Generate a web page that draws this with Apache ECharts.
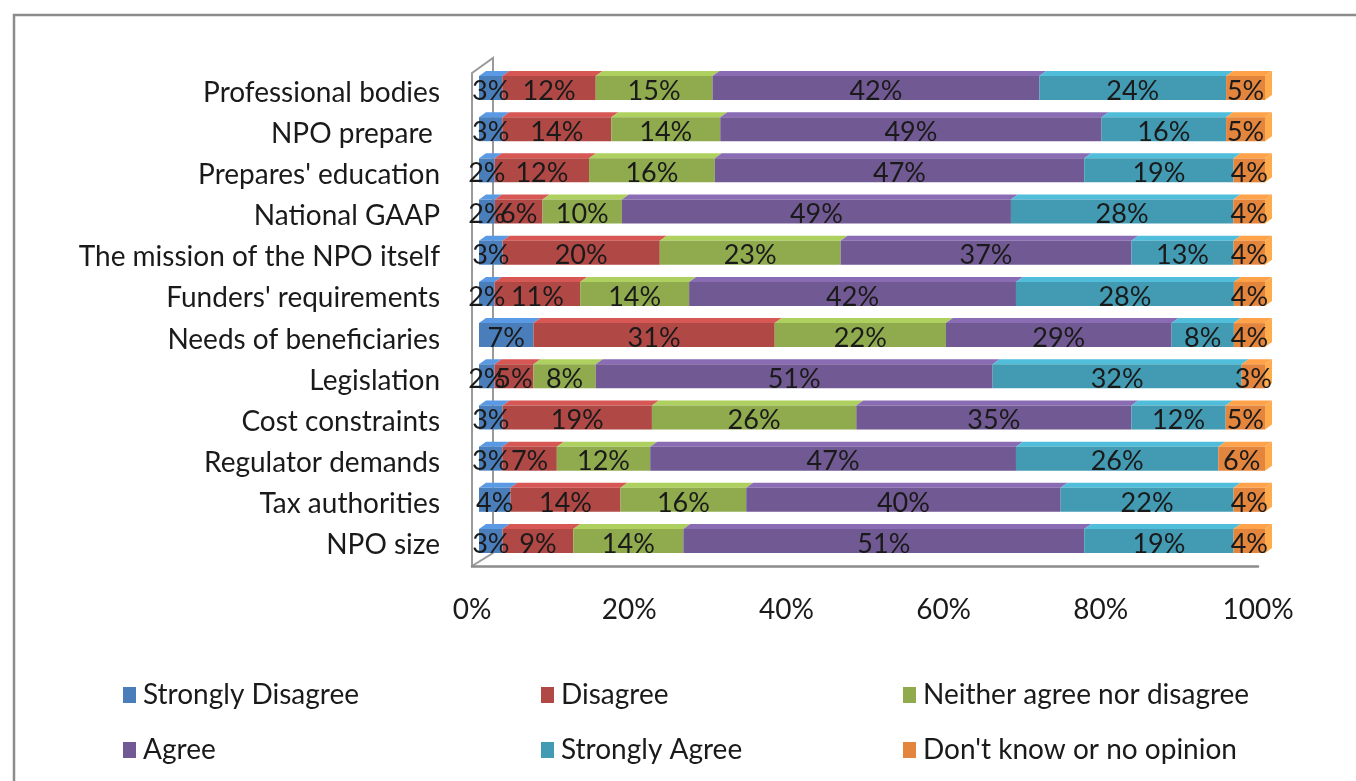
<!DOCTYPE html>
<html>
<head>
<meta charset="utf-8">
<script src="https://cdn.jsdelivr.net/npm/echarts@6/dist/echarts.min.js"></script>
<style>
html,body{margin:0;padding:0;background:#fff;}
#chart{width:1356px;height:781px;}
</style>
</head>
<body>
<div id="chart"></div>
<script>
// ---- data (top to bottom, as in the reference) ----
const categories = ['Professional bodies', 'NPO prepare ', "Prepares' education", 'National GAAP',
  'The mission of the NPO itself', "Funders' requirements", 'Needs of beneficiaries', 'Legislation',
  'Cost constraints', 'Regulator demands', 'Tax authorities', 'NPO size'];
const seriesNames = ['Strongly Disagree', 'Disagree', 'Neither agree nor disagree', 'Agree', 'Strongly Agree', "Don't know or no opinion"];
const stronglyDisagree = [3, 3, 2, 2, 3, 2, 7, 2, 3, 3, 4, 3];
const disagree         = [12, 14, 12, 6, 20, 11, 31, 5, 19, 7, 14, 9];
const neither          = [15, 14, 16, 10, 23, 14, 22, 8, 26, 12, 16, 14];
const agree            = [42, 49, 47, 49, 37, 42, 29, 51, 35, 47, 40, 51];
const stronglyAgree    = [24, 16, 19, 28, 13, 28, 8, 32, 12, 26, 22, 19];
const dontKnow         = [5, 5, 4, 4, 4, 4, 4, 3, 5, 6, 4, 4];
const xTicks = [0, 20, 40, 60, 80, 100];

// ---- styles ----
const colors = ['#4a7ebb', '#b04845', '#8fab4e', '#715993', '#429bb3', '#e3853d'];
const FONT = 'Lato';
const allSeries = [stronglyDisagree, disagree, neither, agree, stronglyAgree, dontKnow];

// 100% stacking: each row normalised to its own total
const rowTotals = categories.map((_, i) => allSeries.reduce((s, arr) => s + arr[i], 0));
const starts = categories.map(() => 0);

const DX = 7, DY = 5, FRONT_H = 24;

function makeRender(isLast) {
  return function (params, api) {
    const s = api.value(0), e = api.value(1), c = api.value(2), v = api.value(3);
    const p0 = api.coord([s, c]);
    const p1 = api.coord([e, c]);
    const x0 = p0[0], x1 = p1[0], yc = p0[1];
    const yt = yc - FRONT_H / 2, yb = yc + FRONT_H / 2;
    const col = api.visual('color');
    const topCol = echarts.color.lift(col, -0.22);
    const sideCol = echarts.color.lift(col, -0.3);
    const children = [
      {type: 'polygon', shape: {points: [[x0, yt], [x0 + DX, yt - DY], [x1 + DX, yt - DY], [x1, yt]]},
        style: {fill: topCol}, z2: 1},
      {type: 'rect', shape: {x: x0, y: yt, width: x1 - x0, height: FRONT_H},
        style: {fill: col}, z2: 2}
    ];
    if (isLast) {
      children.push({type: 'polygon', shape: {points: [[x1, yt], [x1 + DX, yt - DY], [x1 + DX, yb - DY], [x1, yb]]},
        style: {fill: sideCol}, z2: 2});
    }
    children.push({type: 'text', x: (x0 + x1) / 2, y: yc + 3, z2: 100,
      style: {text: v + '%', fill: '#1a1a1a', font: '27px ' + FONT, align: 'center', verticalAlign: 'middle'}});
    return {type: 'group', children: children};
  };
}

const series = allSeries.map((arr, k) => {
  const data = arr.map((v, i) => {
    const s = starts[i];
    const e = s + v / rowTotals[i] * 100;
    starts[i] = e;
    return [s, e, i, v];
  });
  return {
    type: 'custom', name: seriesNames[k], xAxisIndex: 0, yAxisIndex: 0,
    itemStyle: {color: colors[k]},
    encode: {x: [0, 1], y: 2},
    renderItem: makeRender(k === allSeries.length - 1),
    data: data
  };
});

const legendCommon = {
  orient: 'vertical', itemWidth: 13, itemHeight: 16, icon: 'rect', itemGap: 25,
  textStyle: {fontFamily: FONT, fontSize: 28, color: '#1a1a1a', lineHeight: 30, padding: [0, 0, 0, 2]},
  selectedMode: false, top: 675
};

const chart = echarts.init(document.getElementById('chart'), null, {renderer: 'canvas'});
chart.setOption({
  backgroundColor: '#fff',
  animation: false,
  textStyle: {fontFamily: FONT},
  grid: [
    {left: 479, right: 91, top: 67.4, bottom: 219.4},
    {left: 472, right: 98, top: 72, bottom: 215}
  ],
  xAxis: [
    {gridIndex: 0, type: 'value', min: 0, max: 100, show: false},
    {gridIndex: 1, type: 'value', min: 0, max: 100, interval: 20,
      axisLine: {show: true, lineStyle: {color: '#8c8c8c', width: 2.5}},
      axisTick: {show: false}, splitLine: {show: false},
      axisLabel: {margin: 30, fontSize: 28, color: '#1a1a1a', fontFamily: FONT,
        customValues: xTicks, formatter: '{value}%'}}
  ],
  yAxis: [
    {gridIndex: 0, type: 'category', data: categories, inverse: true, show: false},
    {gridIndex: 1, type: 'category', data: categories, inverse: true,
      axisLine: {show: false}, axisTick: {show: false},
      axisLabel: {margin: 32, fontSize: 28, color: '#1a1a1a', fontFamily: FONT}}
  ],
  legend: [
    Object.assign({}, legendCommon, {left: 118, data: [seriesNames[0], seriesNames[3]]}),
    Object.assign({}, legendCommon, {left: 536, data: [seriesNames[1], seriesNames[4]]}),
    Object.assign({}, legendCommon, {left: 898, data: [seriesNames[2], seriesNames[5]]})
  ],
  graphic: [
    {type: 'rect', shape: {x: 14, y: 15, width: 1400, height: 800}, silent: true, z: -10,
      style: {fill: 'none', stroke: '#8c8c8c', lineWidth: 2.5}},
    {type: 'polygon', shape: {points: [[472, 73], [493, 58], [493, 553], [472, 566]]}, silent: true, z: -5,
      style: {fill: 'none', stroke: '#9a9a9a', lineWidth: 2}}
  ],
  series: series
});
</script>
</body>
</html>
